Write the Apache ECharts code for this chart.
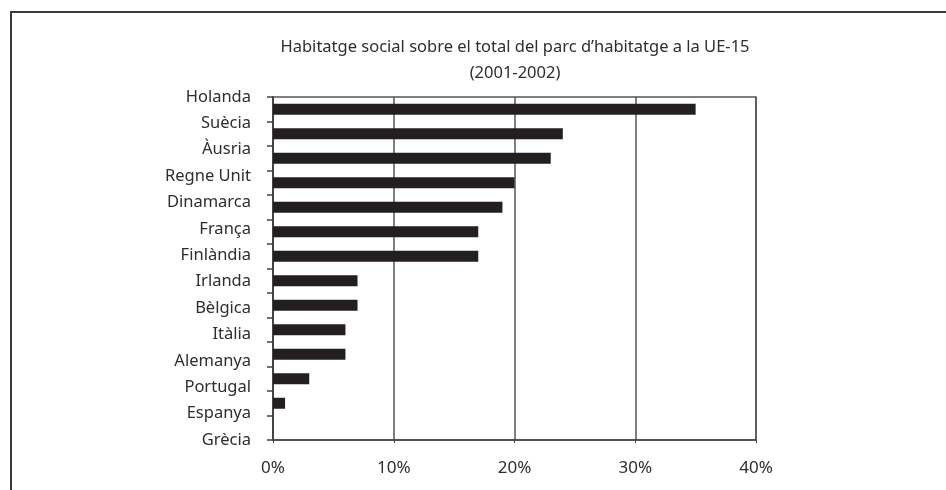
<!DOCTYPE html>
<html>
<head>
<meta charset="utf-8">
<script src="https://cdn.jsdelivr.net/npm/echarts@6/dist/echarts.min.js"></script>
<style>
  html, body { margin: 0; padding: 0; background: #fff; }
  #chart { width: 946px; height: 490px; }
</style>
</head>
<body>
<div id="chart"></div>
<script>
// dades llegides del gràfic (percentatge d'habitatge social)
const paisos = ['Holanda', 'Suècia', 'Àusria', 'Regne Unit', 'Dinamarca', 'França', 'Finlàndia',
  'Irlanda', 'Bèlgica', 'Itàlia', 'Alemanya', 'Portugal', 'Espanya', 'Grècia'];
const valors = [35, 24, 23, 20, 19, 17, 17, 7, 7, 6, 6, 3, 1, 0];
const ticksX = [0, 10, 20, 30, 40];

const font = 'Noto Sans';
const chart = echarts.init(document.getElementById('chart'));

chart.setOption({
  animation: false,
  backgroundColor: '#fff',
  title: {
    text: 'Habitatge social sobre el total del parc d\u2019habitatge a la UE-15\n(2001-2002)',
    left: 510,
    top: 29,
    textAlign: 'center',
    textStyle: {
      fontFamily: font,
      fontSize: 16.5,
      fontWeight: 'normal',
      color: '#2e2e2e',
      lineHeight: 26,
      align: 'center'
    }
  },
  // marc exterior (només esquerra i dalt)
  graphic: [{
    type: 'polyline',
    shape: { points: [[11, 490], [11, 12], [946, 12]] },
    style: { stroke: '#3a3a3a', lineWidth: 2, fill: null }
  }],
  grid: {
    left: 273,
    right: 190,
    top: 97,
    bottom: 50,
    show: true,
    borderColor: '#555',
    borderWidth: 1.5
  },
  xAxis: {
    type: 'value',
    min: ticksX[0],
    max: ticksX[ticksX.length - 1],
    interval: 10,
    axisLine: { show: true, lineStyle: { color: '#444', width: 1.5 } },
    axisTick: { show: true, length: 3, lineStyle: { color: '#444' } },
    splitLine: { show: true, lineStyle: { color: '#555', width: 1.5 } },
    axisLabel: {
      formatter: '{value}%',
      fontFamily: font,
      fontSize: 17,
      color: '#2e2e2e',
      margin: 20
    }
  },
  yAxis: [{
    // eix amb les marques entre categories
    type: 'category',
    data: paisos,
    inverse: true,
    axisLine: { show: true, lineStyle: { color: '#444', width: 2 } },
    axisTick: { show: true, length: 6, lineStyle: { color: '#444', width: 1.5 } },
    axisLabel: { show: false },
    splitLine: { show: false }
  }, {
    // etiquetes repartides de dalt a baix, com a l'original
    type: 'category',
    data: paisos,
    inverse: true,
    position: 'left',
    boundaryGap: false,
    axisLine: { show: false },
    axisTick: { show: false },
    splitLine: { show: false },
    axisLabel: {
      fontFamily: font,
      fontSize: 16.5,
      color: '#2e2e2e',
      margin: 22
    }
  }],
  series: [{
    type: 'bar',
    data: valors,
    yAxisIndex: 0,
    barWidth: 11,
    itemStyle: { color: '#231f20' }
  }]
});
</script>
</body>
</html>
